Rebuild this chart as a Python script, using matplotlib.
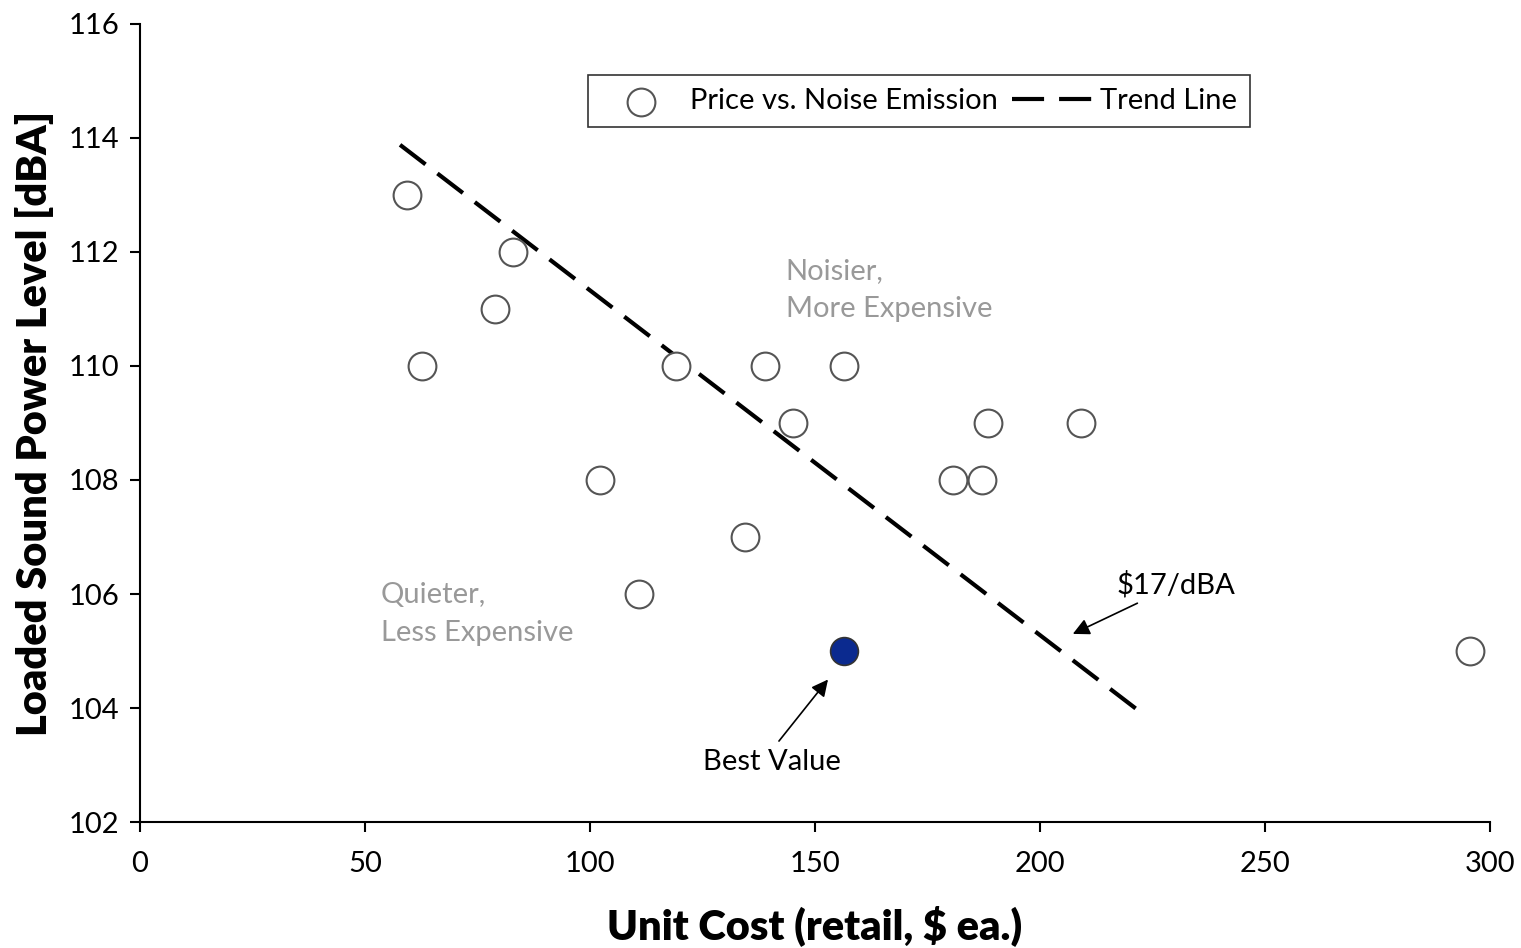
import matplotlib
matplotlib.use("Agg")
import matplotlib.pyplot as plt
import numpy as np

plt.rcParams['font.family'] = ['Lato', 'DejaVu Sans']

cost = [59.3, 82.9, 78.9, 62.7, 119.1, 138.9, 145.1, 188.4, 209.1, 102.2, 180.7, 187.1, 134.4, 110.9, 156.4, 295.6]
noise = [113, 112, 111, 110, 110, 110, 109, 109, 109, 108, 108, 108, 107, 106, 110, 105]
best_cost = [156.4]
best_noise = [105]
trend_x = [57.8, 221.8]
trend_y = [113.88, 103.96]

fig = plt.figure(figsize=(15.21, 9.48), dpi=100)
ax = fig.add_axes([0.092, 0.1329, 0.8876, 0.8418])

ax.scatter(cost, noise, s=400, facecolors='white', edgecolors='#555555', linewidths=1.5, zorder=3,
           label='Price vs. Noise Emission')
ax.scatter(best_cost, best_noise, s=400, facecolors='#0b2a8f', edgecolors='#333333', linewidths=1.2, zorder=4)
ax.plot(trend_x, trend_y, color='black', lw=3, dashes=(7.7, 3.6), label='Trend Line', zorder=2)

ax.set_xlim(0, 300)
ax.set_ylim(102, 116)
ax.set_xticks(np.arange(0, 301, 50))
ax.set_yticks(np.arange(102, 117, 2))
for s in ['top', 'right']:
    ax.spines[s].set_visible(False)
for s in ['left', 'bottom']:
    ax.spines[s].set_linewidth(1.5)
ax.tick_params(axis='both', direction='out', length=7, width=1.5, labelsize=21)
ax.tick_params(axis='x', pad=14)
ax.tick_params(axis='y', pad=8)

ax.set_xlabel('Unit Cost (retail, $ ea.)', fontsize=30, fontweight='heavy', labelpad=20)
ax.set_ylabel('Loaded Sound Power Level [dBA]', fontsize=30, fontweight='heavy', labelpad=10)

leg = ax.legend(loc='upper left', bbox_to_anchor=(0.3319, 0.936), borderaxespad=0, ncol=2, fontsize=21,
                frameon=True, fancybox=False, edgecolor='black', handlelength=2.74,
                columnspacing=0.48, handletextpad=0.3, borderpad=0.45)
leg.get_frame().set_linewidth(1.2)

ax.text(143.5, 111.33, 'Noisier,\nMore Expensive', fontsize=21, color='#999999', va='center', ha='left', linespacing=1.55)
ax.text(53.5, 105.65, 'Quieter,\nLess Expensive', fontsize=21, color='#999999', va='center', ha='left', linespacing=1.55)

ax.text(140.5, 103.05, 'Best Value', fontsize=21, ha='center', va='center')
ax.annotate('', xy=(152.9, 104.5), xytext=(142.0, 103.42),
            arrowprops=dict(arrowstyle='-|>', color='black', lw=1.2, mutation_scale=25,
                            shrinkA=0, shrinkB=0))
ax.annotate('$17/dBA', xy=(207.3, 105.3), xytext=(217, 106.16), fontsize=21, ha='left', va='center',
            arrowprops=dict(arrowstyle='-|>', color='black', lw=1.2, mutation_scale=25,
                            shrinkA=3, shrinkB=0))

fig.savefig('out.png', dpi=100)
